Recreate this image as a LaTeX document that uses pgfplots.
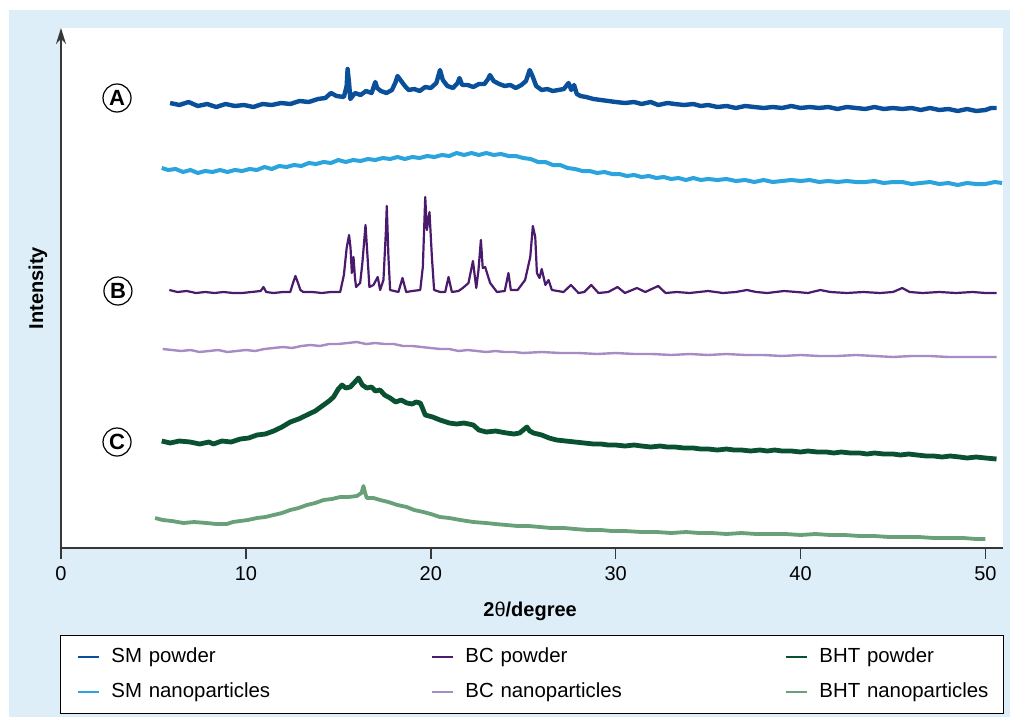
\documentclass[border=0pt]{standalone}
\usepackage{fontspec}
\setmainfont{Liberation Sans}
\usepackage{pgfplots}
\pgfplotsset{compat=1.18}
\usetikzlibrary{arrows.meta}

\definecolor{bgblue}{RGB}{221,238,249}
\definecolor{smpow}{RGB}{10,79,154}
\definecolor{smnano}{RGB}{43,164,222}
\definecolor{bcpow}{RGB}{74,26,108}
\definecolor{bcnano}{RGB}{166,139,196}
\definecolor{bhtpow}{RGB}{10,81,49}
\definecolor{bhtnano}{RGB}{104,160,122}
\definecolor{axisgray}{RGB}{55,55,55}

\begin{document}
\begin{tikzpicture}[x=1pt,y=1pt]
% page frame: 1 px = 0.5 pt
\fill[white] (0,0) rectangle (505,-358.5);
\fill[bgblue] (4.5,-5) rectangle (505,-358.5);
\draw[black, line width=0.5pt, fill=white] (30,-317.5) rectangle (501.5,-356.5);

\begin{axis}[
    at={(30.5pt,-274pt)}, anchor=south west,
    scale only axis,
    width=471pt, height=260pt,
    xmin=0, xmax=50.95,
    ymin=0, ymax=520,
    axis background/.style={fill=white},
    axis x line*=bottom,
    axis y line*=left,
    x axis line style={-, line width=0.75pt, color=axisgray},
    y axis line style={-{Stealth[length=8pt,width=5pt]}, line width=0.75pt, color=axisgray},
    xtick={0,10,20,30,40,50},
    ytick=\empty,
    tick align=outside,
    major tick length=5.5pt,
    xtick style={line width=0.75pt, color=axisgray},
    ticklabel style={font=\fontsize{10}{12}\selectfont},
    /pgf/number format/assume math mode=true,
    xlabel={\textbf{2}θ\textbf{/degree}},
    xlabel style={at={(axis description cs:0.498,-0.121)}, anchor=center, font=\fontsize{10}{12}\selectfont},
    ylabel={Intensity},
    ylabel style={at={(axis description cs:-0.0244,0.5)}, anchor=center, font=\bfseries\fontsize{10}{12}\selectfont},
    every axis plot/.append style={no markers, line join=round},
    legend columns=3,
    legend cell align=left,
    legend image code/.code={\draw[#1, line width=1pt, line cap=butt] (0pt,0pt) -- (10.5pt,0pt);},
    legend style={draw=none, fill=none, at={(0.017,-0.2433)}, anchor=west,
        inner sep=0pt, column sep=5.5pt, row sep=7.5pt,
        font=\fontsize{10.2}{12}\selectfont,
        nodes={inner sep=0pt, text width=154.5pt, text height=7.5pt, text depth=2.5pt, align=left}},
]

% SM powder
\addplot[color=smpow, line width=2.2pt] coordinates {
(5.9,445) (6.4,443) (6.9,446) (7.4,442) (7.9,444) (8.4,441) (8.9,444) (9.4,442) (9.9,443)
(10.4,441) (10.9,444) (11.4,443) (11.9,445) (12.4,444) (12.9,447) (13.4,446) (13.9,449)
(14.3,450) (14.6,455) (14.9,452) (15.3,451) (15.45,462) (15.5,479) (15.58,465) (15.65,449)
(15.9,455) (16.2,453) (16.5,457) (16.8,455) (17.0,466) (17.1,460) (17.3,457) (17.6,455)
(17.9,458) (18.1,466) (18.2,472) (18.4,467) (18.6,462) (18.8,458) (19.1,459) (19.4,457)
(19.7,461) (20.0,460) (20.3,465) (20.5,478) (20.65,468) (20.9,462) (21.2,460) (21.45,465)
(21.55,470) (21.7,463) (22.0,463) (22.3,461) (22.6,464) (22.9,464) (23.1,469) (23.2,473)
(23.4,467) (23.7,464) (24.0,462) (24.3,463) (24.6,460) (24.9,463) (25.15,467) (25.35,478)
(25.5,472) (25.7,462) (26.0,458) (26.3,459) (26.6,457) (26.9,458) (27.2,459) (27.45,465)
(27.6,458) (27.75,463) (27.9,454) (28.1,452) (28.4,451) (28.8,449) (29.2,448) (29.6,447)
(30.0,446) (30.5,445) (31.0,446) (31.4,444) (31.9,446) (32.3,443) (32.8,445) (33.2,444)
(33.7,443) (34.2,444) (34.6,442) (35.0,443) (35.5,441) (36.0,442) (36.5,440) (37.0,442)
(37.5,441) (38.0,440) (38.5,441) (39.0,440) (39.5,442) (40.0,440) (40.5,441) (41.0,440)
(41.5,441) (42.0,439) (42.5,441) (43.0,440) (43.5,439) (44.0,441) (44.5,439) (45.0,440)
(45.5,439) (46.0,440) (46.5,438) (47.0,440) (47.5,438) (48.0,439) (48.5,437) (49.0,439)
(49.5,437) (50.0,438) (50.3,440) (50.6,440)
};
\addlegendentry{SM powder}

% BC powder
\addplot[color=bcpow, line width=1.1pt] coordinates {
(5.86,258) (6.3,256) (6.8,257) (7.3,255) (7.8,256) (8.3,255) (8.8,256) (9.3,255) (9.8,255)
(10.3,256) (10.8,257) (10.95,261) (11.1,256) (11.5,255) (12.0,256) (12.4,256) (12.55,265)
(12.68,272) (12.8,266) (12.95,258) (13.1,256) (13.6,256) (14.1,255) (14.6,256) (15.1,256)
(15.3,273) (15.45,300) (15.58,313) (15.66,300) (15.73,275) (15.82,291) (15.9,270) (15.96,261)
(16.18,265) (16.3,285) (16.47,323) (16.58,291) (16.68,261) (16.9,263) (17.13,271) (17.26,258)
(17.44,268) (17.57,316) (17.62,342) (17.71,291) (17.8,258) (18.25,256) (18.47,270) (18.67,256)
(19.0,257) (19.43,258) (19.57,281) (19.7,351) (19.79,318) (19.93,336) (20.06,291) (20.18,258)
(20.5,256) (20.78,256) (20.96,271) (21.14,256) (21.5,257) (21.73,260) (22.04,265) (22.28,287)
(22.46,260) (22.58,278) (22.71,308) (22.81,280) (22.94,281) (23.21,265) (23.58,256) (24.0,257)
(24.2,275) (24.33,258) (24.7,258) (25.1,268) (25.38,291) (25.52,322) (25.65,311) (25.74,275)
(25.88,270) (26.0,279) (26.2,263) (26.37,268) (26.55,258) (27.18,256) (27.58,263) (27.99,255)
(28.3,256) (28.68,263) (29.07,255) (29.6,256) (30.1,261) (30.5,255) (31.15,260) (31.6,256)
(32.3,262) (32.7,255) (33.3,256) (34.0,255) (35.0,257) (35.8,255) (36.5,256) (37.1,258)
(37.6,256) (38.2,255) (39.1,257) (39.8,256) (40.4,255) (41.07,258) (41.6,256) (42.5,255)
(43.4,256) (44.3,255) (45.0,256) (45.5,260) (45.9,256) (46.6,255) (47.5,256) (48.4,255)
(49.3,256) (50.0,255) (50.6,255)
};
\addlegendentry{BC powder}

% BHT powder
\addplot[color=bhtpow, line width=2.4pt] coordinates {
(5.45,107) (5.9,105) (6.4,107) (6.98,106) (7.5,104) (8.0,106) (8.24,104) (8.7,107) (9.2,106)
(9.7,109) (10.15,110) (10.6,113) (11.05,114) (11.5,117) (11.95,121) (12.4,126) (12.85,129)
(13.3,133) (13.75,137) (14.2,143) (14.5,147) (14.74,151) (15.0,159) (15.2,163) (15.4,160)
(15.64,161) (15.85,165) (16.09,170) (16.3,163) (16.54,160) (16.8,161) (17.0,157) (17.26,158)
(17.5,153) (17.8,150) (18.1,146) (18.4,148) (18.7,145) (19.0,144) (19.2,146) (19.43,145)
(19.55,140) (19.7,133) (20.1,131) (20.5,128) (21.0,125) (21.4,124) (21.8,125) (22.3,123)
(22.6,118) (23.0,116) (23.5,117) (24.1,115) (24.5,114) (24.8,115) (25.0,118) (25.2,121)
(25.35,117) (25.56,115) (26.0,113) (26.4,110) (26.8,108) (27.3,107) (27.8,106) (28.3,105)
(28.8,104) (29.2,104) (29.6,103) (30.0,103) (30.5,102) (31.0,103) (31.4,102) (31.9,101)
(32.4,102) (32.8,101) (33.2,101) (33.7,100) (34.2,100) (34.6,99) (35.0,99) (35.5,98)
(36.0,99) (36.4,98) (36.8,98) (37.3,97) (37.8,98) (38.2,97) (38.6,98) (39.0,97) (39.5,97)
(40.0,96) (40.4,97) (40.9,96) (41.4,96) (41.8,95) (42.2,96) (42.7,95) (43.2,95) (43.6,94)
(44.0,95) (44.5,94) (45.0,94) (45.4,93) (45.85,94) (46.3,93) (46.8,92) (47.2,92) (47.65,91)
(48.1,92) (48.6,91) (49.0,90) (49.5,91) (50.0,90) (50.6,89)
};
\addlegendentry{BHT powder}

% SM nanoparticles
\addplot[color=smnano, line width=2.0pt] coordinates {
(5.45,380) (5.8,378) (6.2,379) (6.6,376) (7.0,378) (7.4,375) (7.8,377) (8.2,376) (8.6,378)
(9.0,376) (9.4,378) (9.8,377) (10.2,379) (10.6,378) (11.0,381) (11.4,379) (11.8,382) (12.2,381)
(12.6,383) (13.0,382) (13.4,385) (13.8,384) (14.2,386) (14.6,385) (15.0,388) (15.4,386)
(15.8,388) (16.2,387) (16.6,389) (17.0,388) (17.4,390) (17.8,389) (18.2,391) (18.6,389)
(19.0,391) (19.4,390) (19.8,392) (20.2,391) (20.6,393) (21.0,392) (21.4,395) (21.8,393)
(22.2,395) (22.6,393) (23.0,395) (23.4,393) (23.8,394) (24.2,392) (24.6,392) (25.0,390)
(25.4,389) (25.8,386) (26.2,386) (26.6,383) (27.0,383) (27.4,380) (27.8,379) (28.2,377)
(28.6,377) (29.0,375) (29.4,376) (29.8,374) (30.2,374) (30.6,372) (31.0,373) (31.4,371)
(31.8,372) (32.2,370) (32.6,371) (33.0,369) (33.4,370) (33.8,368) (34.2,370) (34.6,368)
(35.0,369) (35.5,368) (36.0,369) (36.5,367) (37.0,368) (37.5,366) (38.0,368) (38.5,366)
(39.0,367) (39.5,368) (40.0,367) (40.5,368) (41.0,366) (41.5,367) (42.0,366) (42.5,367)
(43.0,366) (43.5,366) (44.0,367) (44.5,365) (45.0,366) (45.5,366) (46.0,364) (46.5,365)
(47.0,366) (47.5,364) (48.0,365) (48.5,363) (49.0,365) (49.5,364) (50.0,364) (50.5,366) (50.9,365)
};
\addlegendentry{SM nanoparticles}

% BC nanoparticles
\addplot[color=bcnano, line width=1.2pt] coordinates {
(5.5,199) (6.0,198) (6.5,197) (7.0,198) (7.5,196) (8.0,197) (8.5,198) (9.0,196) (9.5,197)
(10.0,198) (10.5,197) (11.0,199) (11.5,200) (12.0,201) (12.5,200) (13.0,202) (13.5,203)
(14.0,202) (14.5,204) (15.0,204) (15.5,205) (16.0,206) (16.5,204) (17.0,205) (17.5,204)
(18.0,204) (18.5,202) (19.0,202) (19.5,201) (20.0,200) (20.5,199) (21.0,199) (21.5,197)
(22.0,198) (22.5,197) (23.0,196) (23.5,197) (24.0,196) (24.5,196) (25.0,195) (26.0,196)
(27.0,195) (28.0,195) (29.0,194) (30.0,195) (31.0,194) (32.0,194) (33.0,193) (34.0,194)
(35.0,193) (36.0,194) (37.0,193) (38.0,193) (39.0,192) (40.0,193) (41.0,192) (42.0,192)
(43.0,193) (44.0,192) (45.0,191) (46.0,192) (47.0,192) (48.0,191) (49.0,191) (50.0,191) (50.6,191)
};
\addlegendentry{BC nanoparticles}

% BHT nanoparticles
\addplot[color=bhtnano, line width=1.9pt] coordinates {
(5.09,30) (5.5,28) (6.0,27) (6.62,25) (7.2,26) (7.88,25) (8.4,24) (8.97,24) (9.3,26) (9.69,27)
(10.1,28) (10.6,30) (11.05,31) (11.5,33) (11.95,35) (12.4,38) (12.85,40) (13.3,43) (13.75,45)
(14.2,48) (14.65,49) (15.1,51) (15.55,51) (16.0,52) (16.25,55) (16.36,62) (16.45,55) (16.54,50)
(16.9,50) (17.26,48) (17.7,46) (18.2,43) (18.7,41) (19.1,38) (19.6,36) (20.0,34) (20.5,31)
(21.0,30) (21.6,28) (22.3,26) (23.0,25) (23.5,24) (24.1,23) (24.7,22) (25.3,22) (25.9,21)
(26.5,20) (27.2,20) (27.8,19) (28.5,18) (29.2,18) (29.8,17) (30.5,17) (31.4,16) (32.2,16)
(33.0,15) (33.8,16) (34.5,15) (35.2,15) (36.0,14) (36.8,15) (37.6,14) (38.4,14) (39.2,14)
(40.0,13) (40.8,14) (41.6,13) (42.4,13) (43.2,12) (44.0,12) (44.8,11) (45.6,11) (46.4,11)
(47.2,10) (48.0,10) (48.8,10) (49.5,9) (50.0,9)
};
\addlegendentry{BHT nanoparticles}

\node[circle, draw, line width=0.6pt, minimum size=14pt, inner sep=0pt,
      font=\bfseries\fontsize{11}{12}\selectfont] at (3.03,450) {A};
\node[circle, draw, line width=0.6pt, minimum size=14pt, inner sep=0pt,
      font=\bfseries\fontsize{11}{12}\selectfont] at (3.08,257) {B};
\node[circle, draw, line width=0.6pt, minimum size=14pt, inner sep=0pt,
      font=\bfseries\fontsize{11}{12}\selectfont] at (3.03,106) {C};
\end{axis}
\pgfresetboundingbox
\useasboundingbox (0,0) rectangle (505,-358.5);
\end{tikzpicture}
\end{document}
